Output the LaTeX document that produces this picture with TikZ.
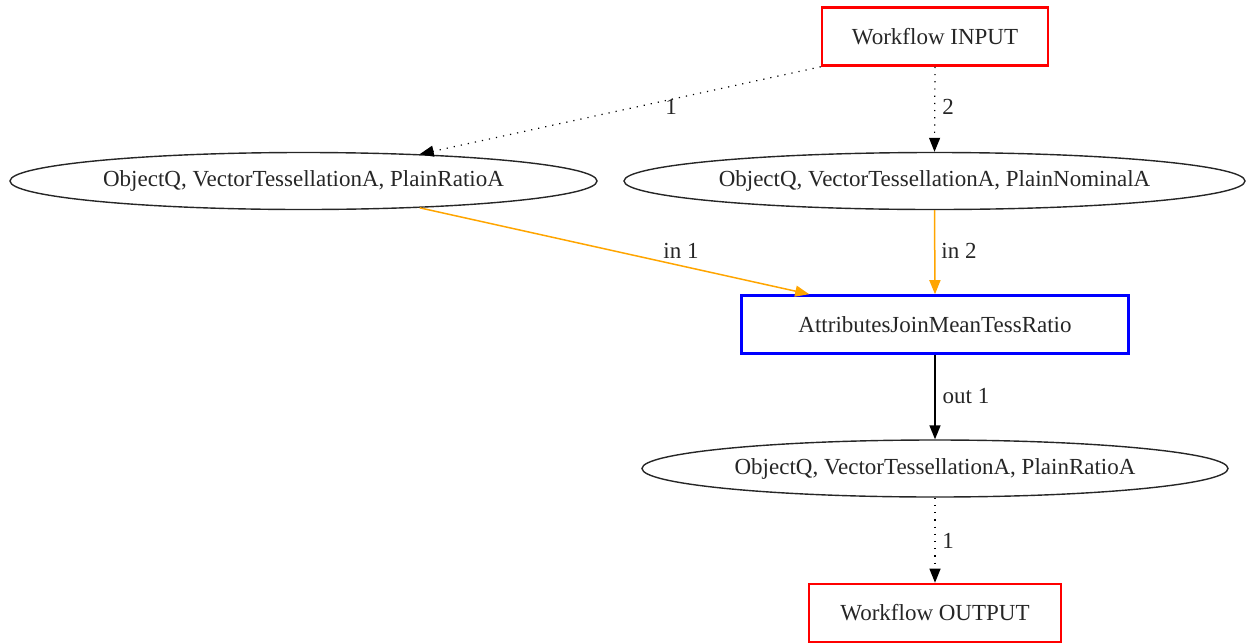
\documentclass[tikz,border=0pt]{standalone}
\usepackage{fontspec}
\setmainfont{Liberation Serif}
\usetikzlibrary{arrows.meta,shapes.geometric,calc}
\definecolor{flowedge}{HTML}{FFA500}
\begin{document}
\begin{tikzpicture}[x=1pt,y=-1pt,
  every node/.style={font=\fontsize{23}{26}\selectfont, text=black!85},
  iobox/.style={draw=red, line width=2.6pt, minimum height=58pt, inner sep=0pt},
  procbox/.style={draw=blue, line width=2.6pt, minimum width=387pt, minimum height=58pt, inner sep=0pt},
  dataell/.style={draw=black!85, ellipse, line width=1.4pt, minimum height=57pt, inner sep=0pt},
  tip/.style={-{Triangle[length=14pt,width=11pt]}},
  dotline/.style={tip, line width=1.2pt, dash pattern=on 1.2pt off 6pt},
  feed/.style={draw=flowedge, line width=1.5pt, -{Triangle[length=14pt,width=11pt,fill=flowedge]}},
  plain/.style={tip, draw=black, line width=1.5pt},
  lbl/.style={inner sep=0pt}]
\useasboundingbox (0,0) rectangle (1247,643);

% nodes
\node[iobox, minimum width=226pt] (inp) at (935,36.5) {Workflow INPUT};
\node[dataell, minimum width=587pt] (e1) at (303.5,181) {ObjectQ, VectorTessellationA, PlainRatioA};
\node[dataell, minimum width=621pt] (e2) at (934.5,181) {ObjectQ, VectorTessellationA, PlainNominalA};
\node[procbox] (attr) at (935,324.5) {AttributesJoinMeanTessRatio};
\node[dataell, minimum width=586pt] (e3) at (935,468.5) {ObjectQ, VectorTessellationA, PlainRatioA};
\node[iobox, minimum width=252pt] (outp) at (935,613) {Workflow OUTPUT};

% connectors
\draw[dotline] (inp.south west) -- (e1.13);
\draw[dotline] (inp.south) -- (e2.north);
\draw[feed] (e1.-13) -- ($(attr.north west)+(69,0)$);
\draw[feed] (e2.south) -- (attr.north);
\draw[plain] (attr.south) -- (e3.north);
\draw[dotline] (e3.south) -- (outp.north);

% connector labels
\node[lbl] (l1) at (671,107) {1};
\node[lbl] (l2) at (948,107) {2};
\node[lbl] (l3) at (681,251) {in 1};
\node[lbl] (l4) at (959,251) {in 2};
\node[lbl] (l5) at (966,396) {out 1};
\node[lbl] (l6) at (948,541) {1};
\end{tikzpicture}
\end{document}
